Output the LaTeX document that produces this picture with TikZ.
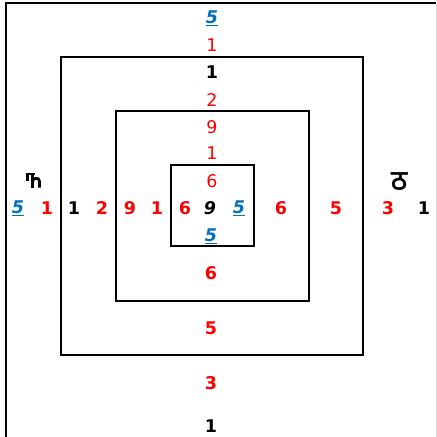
\documentclass[tikz,border=0pt]{standalone}
\usepackage{fontspec}
\setmainfont{DejaVu Sans}
\newfontfamily\devfont[Script=Devanagari,FakeBold=2]{Noto Sans}
\definecolor{numred}{RGB}{255,0,0}
\definecolor{numblue}{RGB}{0,112,192}
\tikzset{
  base/.style={inner sep=0pt, font=\fontsize{17.5}{17.5}\selectfont},
  redn/.style={base, text=numred},
  redb/.style={base, text=numred, font=\fontsize{17.5}{17.5}\selectfont\bfseries},
  blkb/.style={base, text=black, font=\fontsize{17.5}{17.5}\selectfont\bfseries},
  blki/.style={base, text=black, font=\fontsize{17.5}{17.5}\selectfont\bfseries\itshape},
  bluu/.style={base, text=numblue, font=\fontsize{17.5}{17.5}\selectfont\bfseries\itshape},
  sq/.style={draw=black, line width=1.6pt},
  frame/.style={draw=black, line width=1.8pt},
  glyph/.style={draw=black, line width=2.8pt},
}
\begin{document}
\begin{tikzpicture}[x=1pt,y=-1pt]
\path[use as bounding box] (0,0) rectangle (437,437);
\fill[white] (0,0) rectangle (437,437);
% frame
\coordinate (fbl) at (6,437);
\coordinate (ftl) at (6,3);
\coordinate (ftr) at (436,3);
\coordinate (fbr) at (436,437);
\draw[frame] (fbl) -- (ftl) -- (ftr);
\draw[draw=black!15, line width=0.8pt] (ftr) -- (fbr);
% squares
\draw[sq] (61,57) rectangle (363,355);
\draw[sq] (116,111) rectangle (309,301);
\draw[sq] (171,165) rectangle (254,246);
% top column
\node[bluu] (t1) at (212,18) {\underline{5}};
\node[redn] (t2) at (212,45) {1};
\node[blkb] (t3) at (212,72) {1};
\node[redn] (t4) at (212,100) {2};
\node[redn] (t5) at (212,127) {9};
\node[redn] (t6) at (212,153) {1};
\node[redn] (t7) at (212,181) {6};
% middle row
\node[bluu] (m1) at (18,208) {\underline{5}};
\node[redb] (m2) at (47,208) {1};
\node[blkb] (m3) at (74,208) {1};
\node[redb] (m4) at (102,208) {2};
\node[redb] (m5) at (130,208) {9};
\node[redb] (m6) at (157,208) {1};
\node[redb] (m7) at (185,208) {6};
\node[blki] (m8) at (210,208) {9};
\node[bluu] (m9) at (239,208) {\underline{5}};
\node[redb] (m10) at (281,208) {6};
\node[redb] (m11) at (336,208) {5};
\node[redb] (m12) at (388,208) {3};
\node[blkb] (m13) at (424,208) {1};
% bottom column
\node[bluu] (b1) at (211,236) {\underline{5}};
\node[redb] (b2) at (211,273) {6};
\node[redb] (b3) at (211,328) {5};
\node[redb] (b4) at (211,383) {3};
\node[blkb] (b5) at (211,426) {1};
% left script letter (drawn)
\draw[glyph] (25.5,174) -- (34.5,174);
\draw[glyph] (27.5,173) -- (27.5,181);
\draw[glyph] (32.5,173) -- (32.5,187.5);
\draw[glyph] (32.5,181) .. controls (33.5,177.5) and (39.5,177) .. (39.5,181.5) -- (39.5,187.5);
% right script letter
\node[inner sep=0pt, font=\fontsize{28}{28}\devfont] (gr) at (399,181) {ठ};
\end{tikzpicture}
\end{document}
